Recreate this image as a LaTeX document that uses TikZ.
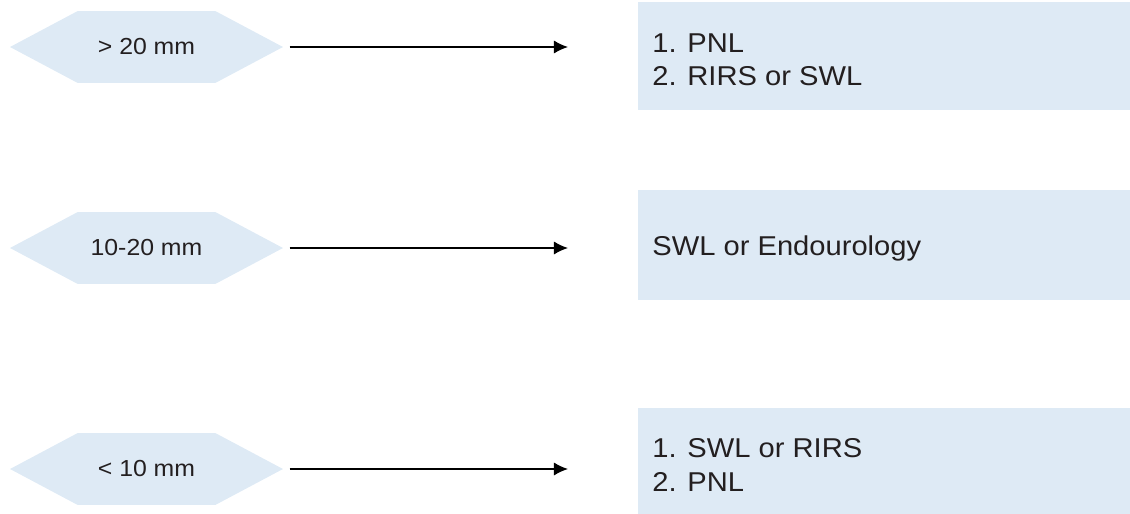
\documentclass[tikz,border=0pt]{standalone}
\usepackage{fontspec}
\setmainfont{Liberation Sans}[FakeStretch=1.07]
\usetikzlibrary{shapes.symbols,arrows.meta}
\definecolor{boxblue}{RGB}{222,234,245}
\definecolor{txt}{RGB}{35,31,32}
\begin{document}
\begin{tikzpicture}[x=0.02cm,y=-0.02cm,
  hexbox/.style={shape=signal, signal to=west and east, signal pointer angle=56,
    fill=boxblue, draw=none, minimum width=5.46cm, minimum height=1.44cm,
    inner sep=0pt, font=\fontsize{13.2}{15}\selectfont, text=txt},
  resbox/.style={rectangle, fill=boxblue, draw=none, anchor=west, inner sep=0pt,
    minimum width=9.84cm},
  restext/.style={anchor=west, align=left, inner sep=0pt,
    font=\fontsize{15.5}{18.8}\selectfont, text=txt},
  conn/.style={line width=0.85pt, -{Latex[length=8pt,width=7.5pt]}}]
\useasboundingbox (0,0) rectangle (1130,514);
\node[hexbox] (h1) at (146.5,47) {> 20 mm};
\node[hexbox] (h2) at (146.5,248) {10-20 mm};
\node[hexbox] (h3) at (146.5,469) {< 10 mm};
\node[resbox, minimum height=2.16cm] (b1) at (638,56) {};
\node[resbox, minimum height=2.2cm] (b2) at (638,245) {};
\node[resbox, minimum height=2.12cm] (b3) at (638,461) {};
\node[restext] (t1) at (652,60) {1. PNL\\2. RIRS or SWL};
\node[restext] (t2) at (652,248) {SWL or Endourology};
\node[restext] (t3) at (652,465) {1. SWL or RIRS\\2. PNL};
\coordinate (e1) at (568,47);
\coordinate (e2) at (568,248);
\coordinate (e3) at (568,469);
\draw[conn] ([xshift=0.12cm]h1.east) -- (e1);
\draw[conn] ([xshift=0.12cm]h2.east) -- (e2);
\draw[conn] ([xshift=0.12cm]h3.east) -- (e3);
\end{tikzpicture}
\end{document}
